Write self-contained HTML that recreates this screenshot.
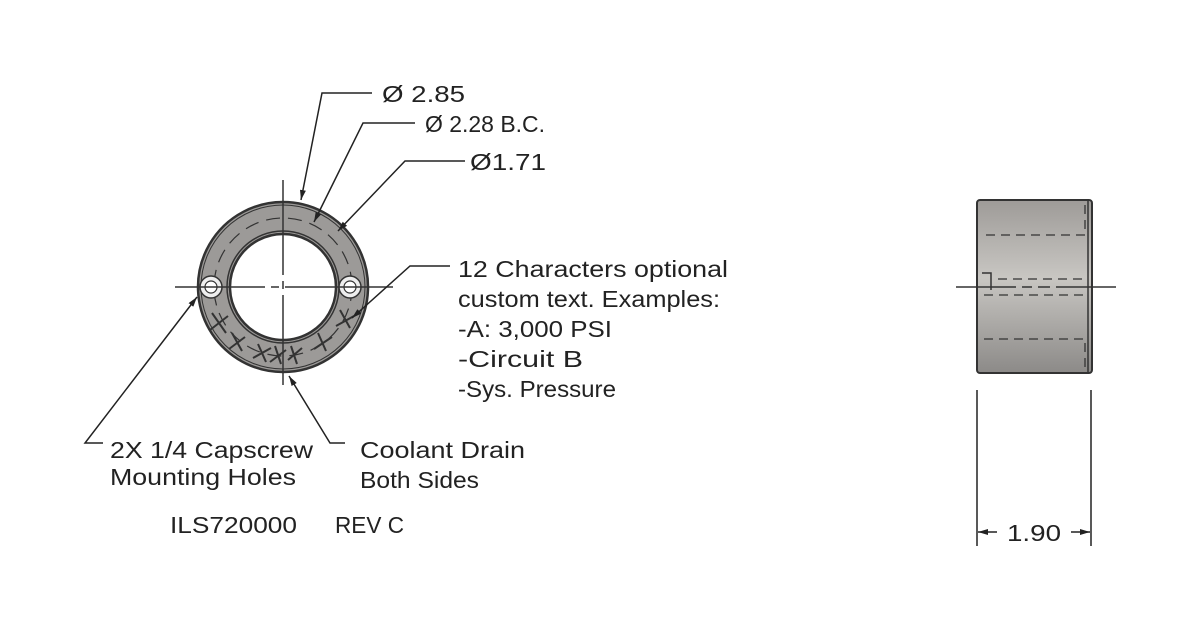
<!DOCTYPE html>
<html><head><meta charset="utf-8"><style>
html,body{margin:0;padding:0;background:#fff;}
svg{display:block;}
text{font-family:"Liberation Sans",sans-serif;font-size:23px;fill:#222;}
</style></head><body>
<svg width="1200" height="625" viewBox="0 0 1200 625" xmlns="http://www.w3.org/2000/svg">
<defs>
<linearGradient id="g" x1="0" y1="0" x2="0" y2="1">
<stop offset="0" stop-color="#9e9b98"/><stop offset="0.45" stop-color="#c8c6c2"/><stop offset="1" stop-color="#8c8a88"/>
</linearGradient>
<marker id="a" markerWidth="10" markerHeight="6" refX="10" refY="3" orient="auto" markerUnits="userSpaceOnUse"><path d="M0,0 L10,3 L0,6z" fill="#222"/></marker>
</defs>
<!-- ring -->
<path d="M283,202 a85,85 0 1,0 0.01,0z M283,234 a53,53 0 1,1 -0.01,0z" fill="#9c9a98" fill-rule="evenodd" stroke="#333" stroke-width="2.5"/>
<circle cx="283" cy="287" r="82" fill="none" stroke="#333" stroke-width="1"/>
<circle cx="283" cy="287" r="56" fill="none" stroke="#333" stroke-width="1.5"/>
<circle cx="283" cy="287" r="69" fill="none" stroke="#333" stroke-width="1.2" stroke-dasharray="14,8"/>
<circle cx="211" cy="287" r="11" fill="#eee" stroke="#333" stroke-width="1.5"/>
<circle cx="211" cy="287" r="6" fill="#fff" stroke="#333" stroke-width="1.2"/>
<circle cx="350" cy="287" r="11" fill="#eee" stroke="#333" stroke-width="1.5"/>
<circle cx="350" cy="287" r="6" fill="#fff" stroke="#333" stroke-width="1.2"/>
<g stroke="#333" stroke-width="1.5">
<line x1="175" y1="287" x2="393" y2="287" stroke-dasharray="90,6,8,6,200"/>
<line x1="283" y1="180" x2="283" y2="385" stroke-dasharray="95,6,8,6,200"/>
</g>
<g stroke="#333" stroke-width="2" fill="none">
<path d="M212,313 l14,20 M210,330 l18,-14"/>
<path d="M232,333 l10,18 M229,349 l16,-12"/>
<path d="M258,344 l8,18 M253,358 l18,-10"/>
<path d="M275,346 l6,18 M270,362 l16,-12"/>
<path d="M291,346 l6,18 M288,360 l14,-12"/>
<path d="M318,333 l8,18 M314,349 l18,-12"/>
<path d="M340,310 l10,18 M336,326 l18,-10"/>
</g>
<!-- leaders -->
<g stroke="#222" stroke-width="1.5" fill="none">
<path d="M372,93 H322 L301,200" marker-end="url(#a)"/>
<path d="M415,123 H363 L314,222" marker-end="url(#a)"/>
<path d="M465,161 H405 L338,231" marker-end="url(#a)"/>
<path d="M450,266 H410 L352,318" marker-end="url(#a)"/>
<path d="M103,443 H85 L197,297" marker-end="url(#a)"/>
<path d="M345,443 H330 L289,376" marker-end="url(#a)"/>
</g>
<g lengthAdjust="spacingAndGlyphs">
<text x="382" y="102" textLength="83" lengthAdjust="spacingAndGlyphs">Ø 2.85</text>
<text x="425" y="132" textLength="120" lengthAdjust="spacingAndGlyphs">Ø 2.28 B.C.</text>
<text x="470" y="170" textLength="76" lengthAdjust="spacingAndGlyphs">Ø1.71</text>
<text x="458" y="277" textLength="270" lengthAdjust="spacingAndGlyphs">12 Characters optional</text>
<text x="458" y="307" textLength="262" lengthAdjust="spacingAndGlyphs">custom text. Examples:</text>
<text x="458" y="337" textLength="154" lengthAdjust="spacingAndGlyphs">-A: 3,000 PSI</text>
<text x="458" y="367" textLength="125" lengthAdjust="spacingAndGlyphs">-Circuit B</text>
<text x="458" y="397" textLength="158" lengthAdjust="spacingAndGlyphs">-Sys. Pressure</text>
<text x="110" y="458" textLength="203" lengthAdjust="spacingAndGlyphs">2X 1/4 Capscrew</text>
<text x="110" y="485" textLength="186" lengthAdjust="spacingAndGlyphs">Mounting Holes</text>
<text x="360" y="458" textLength="165" lengthAdjust="spacingAndGlyphs">Coolant Drain</text>
<text x="360" y="488" textLength="119" lengthAdjust="spacingAndGlyphs">Both Sides</text>
<text x="170" y="533" textLength="127" lengthAdjust="spacingAndGlyphs">ILS720000</text>
<text x="335" y="533" textLength="69" lengthAdjust="spacingAndGlyphs">REV C</text>
</g>
<!-- side view -->
<rect x="977" y="200" width="115" height="173" rx="3" fill="url(#g)" stroke="#333" stroke-width="2"/>
<line x1="1088" y1="201" x2="1088" y2="372" stroke="#333" stroke-width="1.5"/>
<g stroke="#333" stroke-width="1.3" stroke-dasharray="9,6" fill="none">
<line x1="986" y1="235" x2="1088" y2="235"/>
<line x1="998" y1="279" x2="1088" y2="279"/>
<line x1="984" y1="295" x2="1088" y2="295"/>
<path d="M984,339 H1085 V372"/>
<line x1="1085" y1="205" x2="1085" y2="235"/>
</g>
<path d="M982,273 H991 V290" stroke="#333" stroke-width="1.5" fill="none"/>
<line x1="956" y1="287" x2="1116" y2="287" stroke="#333" stroke-width="1.5" stroke-dasharray="60,6,10,6,12,6,200"/>
<g stroke="#222" stroke-width="1.5">
<line x1="977" y1="390" x2="977" y2="546"/>
<line x1="1091" y1="390" x2="1091" y2="546"/>
<line x1="997" y1="532" x2="978" y2="532" marker-end="url(#a)"/>
<line x1="1071" y1="532" x2="1090" y2="532" marker-end="url(#a)"/>
</g>
<text x="1007" y="541" textLength="54" lengthAdjust="spacingAndGlyphs">1.90</text>
</svg>
</body></html>
